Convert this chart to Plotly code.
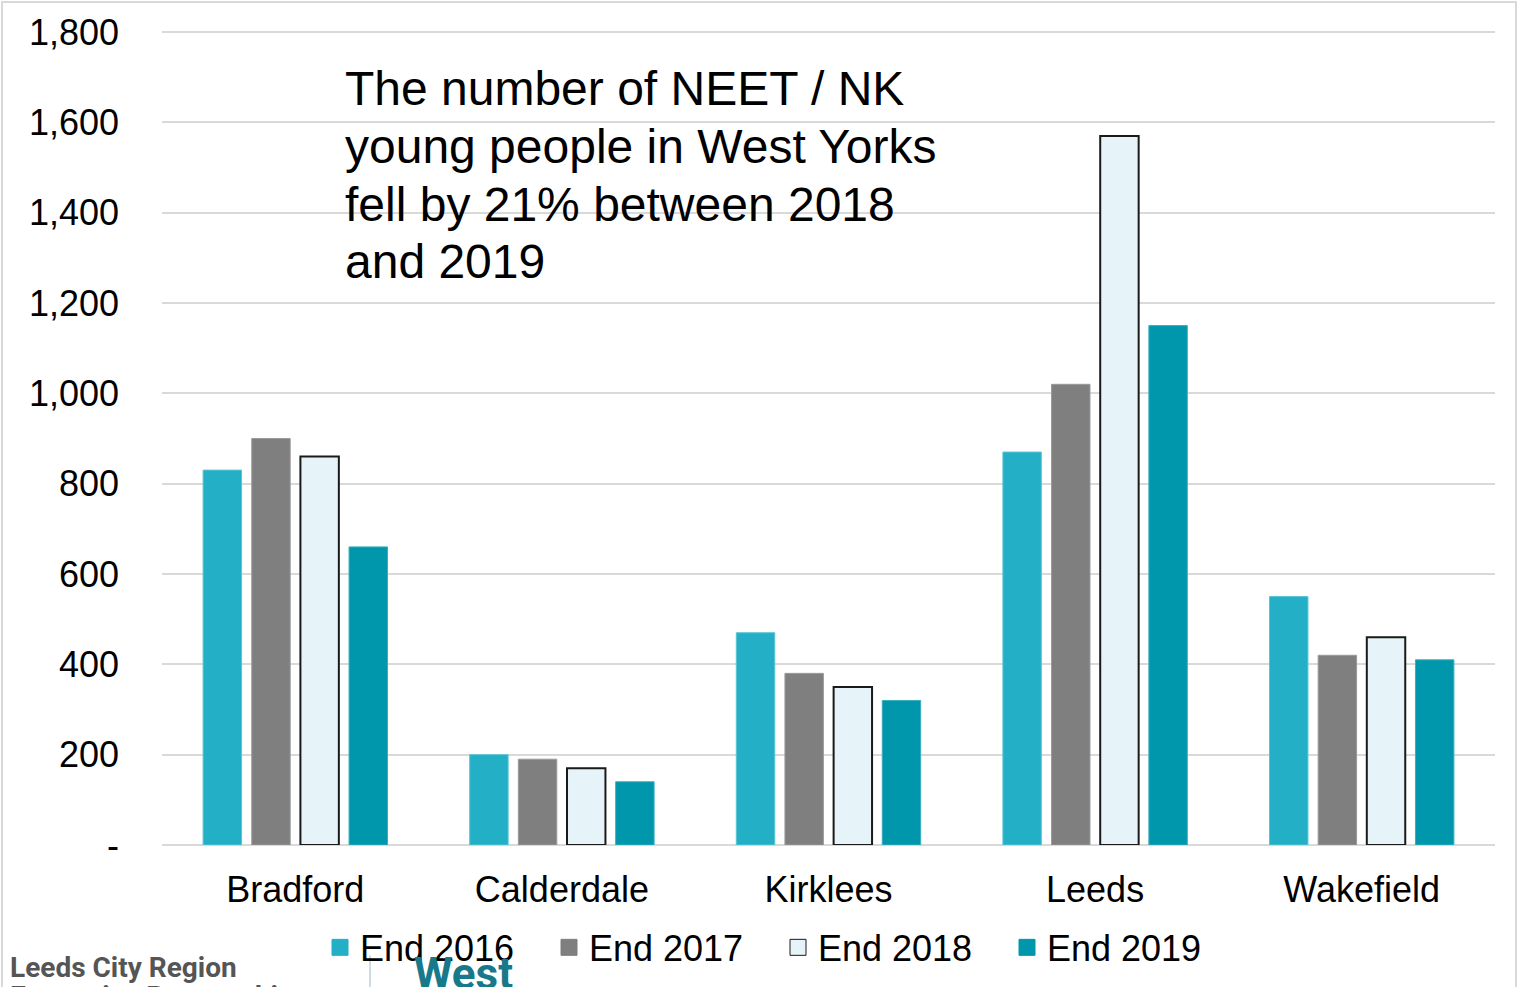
import plotly.graph_objects as go

categories = ["Bradford", "Calderdale", "Kirklees", "Leeds", "Wakefield"]
end_2016 = [830, 200, 470, 870, 550]
end_2017 = [900, 190, 380, 1020, 420]
end_2018 = [860, 170, 350, 1570, 460]
end_2019 = [660, 140, 320, 1150, 410]

series_names = ["End 2016", "End 2017", "End 2018", "End 2019"]
series_values = [end_2016, end_2017, end_2018, end_2019]
fill_colors = ["#23B0C6", "#7F7F7F", "#E6F4F9", "#0096AB"]
line_colors = ["#5cc3d3", "#9a9a9a", "#1a1a1a", "#3aaebf"]
line_widths = [1, 1, 2, 1]

y_tickvals = [0, 200, 400, 600, 800, 1000, 1200, 1400, 1600, 1800]
y_ticktext = ["-", "200", "400", "600", "800", "1,000", "1,200", "1,400", "1,600", "1,800"]

annotation_lines = ["The number of NEET / NK", "young people in West Yorks",
                    "fell by 21% between 2018", "and 2019"]

FONT = "Liberation Sans, Arial, sans-serif"

fig = go.Figure()
for name, vals, fc, lc, lw in zip(series_names, series_values, fill_colors, line_colors, line_widths):
    fig.add_trace(go.Bar(
        x=categories, y=vals, name=name, showlegend=False, legendgroup=name,
        marker=dict(color=fc, line=dict(color=lc, width=lw)),
    ))
# legend entries with larger square swatches
legend_line_colors = ["#23B0C6", "#7F7F7F", "#1a1a1a", "#0096AB"]
for name, fc, lc in zip(series_names, fill_colors, legend_line_colors):
    fig.add_trace(go.Scatter(
        x=[None], y=[None], mode="markers", name=name, legendgroup=name,
        marker=dict(symbol="square", size=16, color=fc, line=dict(color=lc, width=1)),
    ))

W, H = 1519, 987
L, R, T, B = 162, 24, 28, 141.5
pw = W - L - R
ph = H - T - B
# vertical scale: 0 at y=845.5 px, 1800 at y=32 px
y_max = ph / ((H - B - 32) / 1800.0)

def px_x(x):
    return (x - L) / pw

def px_y(y):
    return (H - B - y) / ph

annotations = []
for i, line in enumerate(annotation_lines):
    annotations.append(dict(
        text=line, x=px_x(343), y=px_y(89 + i * 57.7), xref="paper", yref="paper",
        xanchor="left", yanchor="middle", align="left", showarrow=False,
        font=dict(size=48, color="#000000", family=FONT)))
annotations += [
    dict(text="<b>Leeds City Region</b>", x=px_x(8), y=px_y(968), xref="paper", yref="paper",
         xanchor="left", yanchor="middle", showarrow=False,
         font=dict(size=28, color="#555555", family="Roboto, sans-serif")),
    dict(text="<b>Enterprise Partnership</b>", x=px_x(8), y=px_y(997), xref="paper", yref="paper",
         xanchor="left", yanchor="middle", showarrow=False,
         font=dict(size=28, color="#555555", family="Roboto, sans-serif")),
    dict(text="<b>West</b>", x=px_x(412), y=px_y(975), xref="paper", yref="paper",
         xanchor="left", yanchor="middle", showarrow=False,
         font=dict(size=44, color="#17798A", family="Roboto, sans-serif")),
]

fig.update_layout(
    width=W, height=H,
    margin=dict(l=L, r=R, t=T, b=B, autoexpand=False),
    paper_bgcolor="white", plot_bgcolor="white",
    font=dict(family=FONT, size=36, color="#000000"),
    barmode="group", bargap=0.27, bargroupgap=0.21,
    showlegend=True,
    legend=dict(orientation="h", x=px_x(320), xanchor="left",
                y=px_y(948), yanchor="middle",
                font=dict(size=36, color="#000000"),
                bgcolor="rgba(0,0,0,0)", itemwidth=30, tracegroupgap=0,
                entrywidth=184, entrywidthmode="pixels"),
    xaxis=dict(showgrid=False, showline=False, ticks="", ticklabelstandoff=20,
               tickfont=dict(size=36, color="#000000")),
    yaxis=dict(range=[0, y_max], tickvals=y_tickvals, ticktext=y_ticktext,
               showgrid=True, gridcolor="#D9D9D9", gridwidth=2,
               zeroline=True, zerolinecolor="#D9D9D9", zerolinewidth=2,
               showline=False, ticks="", ticklabelstandoff=42,
               tickfont=dict(size=36, color="#000000")),
    annotations=annotations,
    shapes=[
        dict(type="rect", xref="paper", yref="paper",
             x0=px_x(2), x1=px_x(1516), y0=px_y(1100), y1=px_y(2),
             line=dict(color="#D9D9D9", width=2), fillcolor="rgba(0,0,0,0)", layer="below"),
        dict(type="line", xref="paper", yref="paper",
             x0=px_x(370), x1=px_x(370), y0=px_y(956), y1=px_y(1000),
             line=dict(color="#B8D3D8", width=1.5)),
    ],
)

fig.write_html("out.html", config={"displayModeBar": False},
               post_script="document.body.style.margin='0';")
